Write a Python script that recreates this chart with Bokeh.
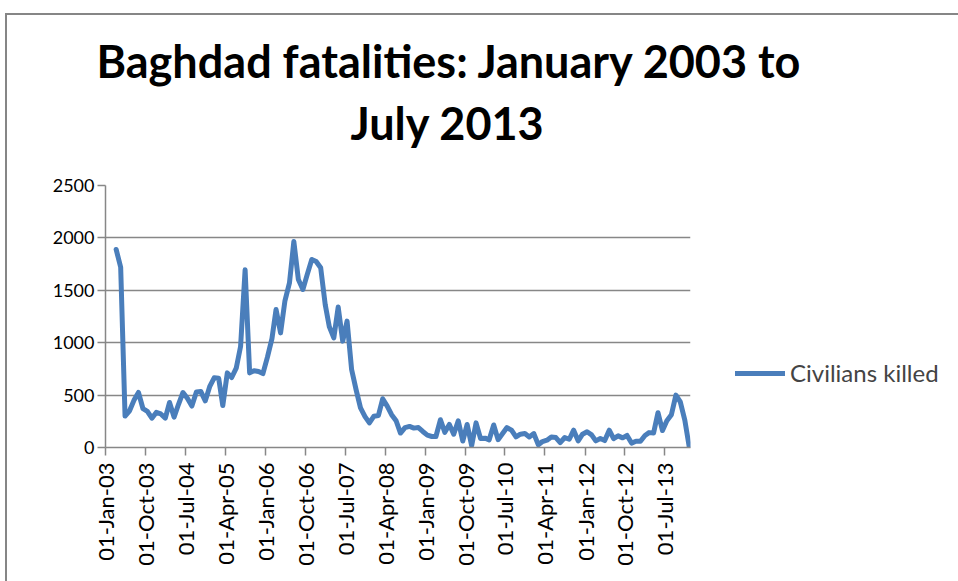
import math
import pandas as pd
from bokeh.plotting import figure
from bokeh.models import (Range1d, FixedTicker, DatetimeTickFormatter, Legend,
                          LegendItem, Title, ColumnDataSource, InlineStyleSheet)
from bokeh.embed import file_html
from bokeh.resources import INLINE

# ---- data (monthly, March 2003 .. December 2013) ----
first_month = "2003-03-01"
civilians_killed = [
    1890, 1720, 300, 350, 450, 525, 370, 345, 280, 335,                # 2003 (Mar-Dec)
    320, 280, 430, 290, 410, 525, 470, 395, 530, 535, 445, 580,         # 2004
    665, 660, 400, 712, 668, 757, 965, 1695, 712, 733, 725, 705,        # 2005
    862, 1038, 1317, 1094, 1400, 1570, 1965, 1603, 1508, 1652, 1794, 1775,  # 2006
    1715, 1365, 1153, 1046, 1340, 1015, 1206, 745, 550, 378, 295, 235,  # 2007
    299, 306, 465, 395, 313, 255, 138, 190, 201, 185, 190, 153,         # 2008
    118, 105, 105, 265, 145, 220, 127, 255, 62, 220, 18, 235,           # 2009
    85, 89, 73, 215, 75, 133, 190, 165, 101, 127, 133, 101,             # 2010
    133, 25, 57, 70, 101, 95, 47, 95, 79, 165, 63, 127,                 # 2011
    150, 120, 63, 85, 66, 165, 84, 111, 92, 115, 42, 60,                # 2012
    60, 115, 142, 138, 332, 162, 256, 313, 500, 435, 261, 8,            # 2013
]
series_name = "Civilians killed"
tick_dates = ["2003-01-01", "2003-10-01", "2004-07-01", "2005-04-01", "2006-01-01",
              "2006-10-01", "2007-07-01", "2008-04-01", "2009-01-01", "2009-10-01",
              "2010-07-01", "2011-04-01", "2012-01-01", "2012-10-01", "2013-07-01"]
y_ticks = [0, 500, 1000, 1500, 2000, 2500]
title_line1 = "Baghdad fatalities: January 2003 to"
title_line2 = "July 2013"

dates = pd.date_range(start=first_month, periods=len(civilians_killed), freq="MS") + pd.Timedelta(days=14)
src = ColumnDataSource(data=dict(date=dates, killed=civilians_killed))

FONT = "Lato"
GRID = "#878787"

p = figure(
    output_backend="svg", toolbar_location=None,
    frame_width=585, frame_height=262,
    min_border_left=105, min_border_right=268, min_border_top=185, min_border_bottom=134,
    x_axis_type="datetime",
    x_range=Range1d(pd.Timestamp("2003-01-01"), pd.Timestamp("2013-12-24")),
    y_range=Range1d(0, 2500),
    title=None,
)
p.outline_line_color = None
p.background_fill_color = "white"
p.border_fill_color = "white"

# outer chart-area frame (top and left edges, as in the source)
p.stylesheets = [InlineStyleSheet(css="""
:host::after {
  content: ""; position: absolute; left: 5px; top: 13px; right: 0; bottom: 0;
  border-top: 2px solid #868686; border-left: 2px solid #868686;
  pointer-events: none;
}
""")]

r = p.line(x="date", y="killed", source=src, line_color="#4A7EBB", line_width=5,
           line_join="round", line_cap="round")

# axes
tick_ms = [pd.Timestamp(d).value // 10**6 for d in tick_dates]
p.xaxis.ticker = FixedTicker(ticks=tick_ms)
fmt = "%d-%b-%y"
p.xaxis.formatter = DatetimeTickFormatter(
    microseconds=fmt, milliseconds=fmt, seconds=fmt, minsec=fmt, minutes=fmt,
    hourmin=fmt, hours=fmt, days=fmt, months=fmt, years=fmt)
p.xaxis.major_label_orientation = math.pi / 2
p.yaxis.ticker = FixedTicker(ticks=y_ticks)

for ax in (p.xaxis[0], p.yaxis[0]):
    ax.axis_line_color = GRID
    ax.axis_line_width = 1.5
    ax.major_tick_line_color = GRID
    ax.major_tick_line_width = 1.5
    ax.major_tick_out = 8
    ax.major_tick_in = 0
    ax.minor_tick_out = 0
    ax.minor_tick_in = 0
    ax.major_label_text_font = FONT
    ax.major_label_text_color = "black"
p.yaxis.major_label_text_font_size = "18px"
p.yaxis.major_label_standoff = 3
p.xaxis.major_label_text_font_size = "22px"
p.xaxis.major_label_standoff = 7

p.xgrid.grid_line_color = None
p.ygrid.grid_line_color = GRID
p.ygrid.grid_line_width = 1.5

# title (two lines)
t2 = Title(text=title_line2, align="left", offset=245, text_font=FONT,
           text_font_size="45px", text_font_style="bold", text_color="black", standoff=71)
t1 = Title(text=title_line1, align="left", offset=-9, text_font=FONT,
           text_font_size="45px", text_font_style="bold", text_color="black", standoff=-59)
p.add_layout(t2, "above")
p.add_layout(t1, "above")

legend = Legend(items=[LegendItem(label=series_name, renderers=[r])],
                location=(45, 60), orientation="vertical",
                border_line_color=None, background_fill_alpha=0,
                padding=0, margin=0, spacing=0,
                glyph_width=50, glyph_height=24, label_height=24, label_standoff=5,
                label_text_font=FONT, label_text_font_size="24px")
p.add_layout(legend, "right")

open("out.html", "w").write(file_html(p, INLINE))
